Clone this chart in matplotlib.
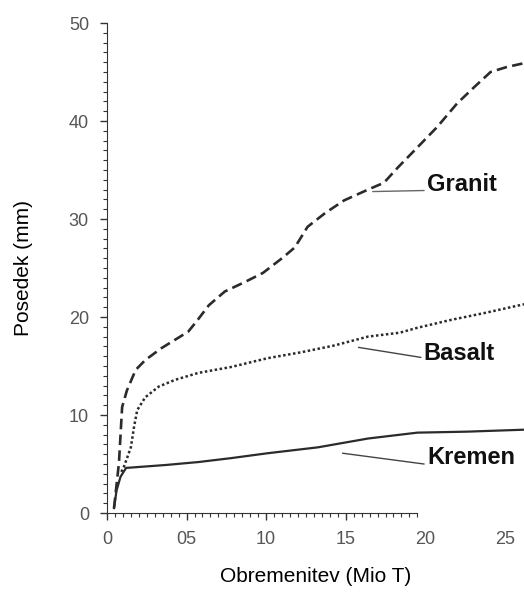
import matplotlib
matplotlib.use('Agg')
from matplotlib import pyplot as plt
from matplotlib.ticker import MultipleLocator
import numpy as np

# Obremenitev (Mio T) / Posedek (mm)
granit_x = [0.44, 0.75, 0.95, 1.25, 1.8, 2.4, 3.4, 4.3, 5.1, 5.6, 6.4, 7.4, 8.7,
            9.8, 11.0, 11.8, 12.6, 13.7, 14.9, 16.4, 17.4, 18.3, 19.5, 20.75,
            22.0, 23.1, 24.1, 25.1, 26.2]
granit_y = [0.5, 5.1, 10.8, 12.5, 14.6, 15.6, 16.8, 17.7, 18.5, 19.5, 21.2, 22.6,
            23.6, 24.5, 26.0, 27.1, 29.2, 30.6, 31.9, 33.0, 33.7, 35.3, 37.3,
            39.4, 41.8, 43.5, 45.0, 45.5, 45.9]

basalt_x = [0.9, 1.06, 1.5, 1.7, 1.9, 2.4, 3.25, 4.3, 5.75, 7.8, 10.1, 12.2,
            14.3, 16.4, 18.4, 19.5, 21.6, 23.7, 26.2]
basalt_y = [4.2, 4.7, 6.7, 8.8, 10.5, 11.8, 12.9, 13.6, 14.3, 14.9, 15.8, 16.4,
            17.1, 18.0, 18.4, 18.9, 19.7, 20.4, 21.3]

kremen_x = [0.44, 0.6, 0.85, 1.2, 3.7, 5.75, 7.8, 10.1, 13.25, 16.4, 19.5,
            22.6, 26.2]
kremen_y = [0.5, 2.3, 3.7, 4.6, 4.9, 5.2, 5.6, 6.1, 6.7, 7.6, 8.2, 8.3, 8.5]

xticks = [0, 5, 10, 15, 20, 25]
xtick_labels = ['0', '05', '10', '15', '20', '25']
yticks = [0, 10, 20, 30, 40, 50]

plt.rcParams['font.family'] = ['Liberation Sans', 'DejaVu Sans']

fig = plt.figure(figsize=(5.24, 5.93), dpi=100)
ax = fig.add_axes([107 / 524, 80 / 593, 417 / 524, 490 / 593])

line_clr = '#2b2b2b'
ax.plot(granit_x, granit_y, color=line_clr, lw=1.9, linestyle=(0, (4, 2)))
ax.plot(basalt_x, basalt_y, color=line_clr, lw=1.8, linestyle=(0, (1, 1)))
ax.plot(kremen_x, kremen_y, color=line_clr, lw=1.6, linestyle='-')

ax.set_xlim(0, 26.2)
ax.set_ylim(0, 50)

# osi
for s in ['top', 'right']:
    ax.spines[s].set_visible(False)
ax.spines['left'].set_bounds(0, 50)
ax.spines['bottom'].set_bounds(0, 19.5)
ax.spines['left'].set_color('#333333')
ax.spines['bottom'].set_color('#333333')

ax.set_xticks(xticks)
ax.set_xticklabels(xtick_labels)
ax.set_yticks(yticks)
ax.xaxis.set_minor_locator(matplotlib.ticker.FixedLocator(np.arange(0.5, 19.6, 0.5)))
ax.yaxis.set_minor_locator(MultipleLocator(1))
ax.tick_params(which='major', direction='out', length=5, width=1,
               color='#333333', labelsize=13, labelcolor='#555555', pad=8)
ax.tick_params(which='minor', direction='out', length=3, width=0.8,
               color='#333333')
# nad 20 ni crtic
for t in ax.xaxis.get_major_ticks()[4:]:
    t.tick1line.set_visible(False)

ax.set_xlabel('Obremenitev (Mio T)', fontsize=15, labelpad=14)
ax.set_ylabel('Posedek (mm)', fontsize=15, labelpad=26)

lbl_kw = dict(fontsize=17, fontweight='bold', va='center', ha='left',
              color='#111111')
ax.annotate('Granit', xy=(16.7, 32.8), xytext=(20.1, 33.5),
            arrowprops=dict(arrowstyle='-', color='#666666', lw=1,
                            shrinkA=0, shrinkB=0, relpos=(0, 0.25)),
            **lbl_kw)
ax.annotate('Basalt', xy=(15.8, 16.9), xytext=(19.9, 16.3),
            arrowprops=dict(arrowstyle='-', color='#444444', lw=1,
                            shrinkA=0, shrinkB=0, relpos=(0, 0.3)),
            **lbl_kw)
ax.annotate('Kremen', xy=(14.8, 6.1), xytext=(20.1, 5.7),
            arrowprops=dict(arrowstyle='-', color='#444444', lw=1,
                            shrinkA=0, shrinkB=0, relpos=(-0.03, 0.2)),
            **lbl_kw)

fig.savefig('out.png', dpi=100)
